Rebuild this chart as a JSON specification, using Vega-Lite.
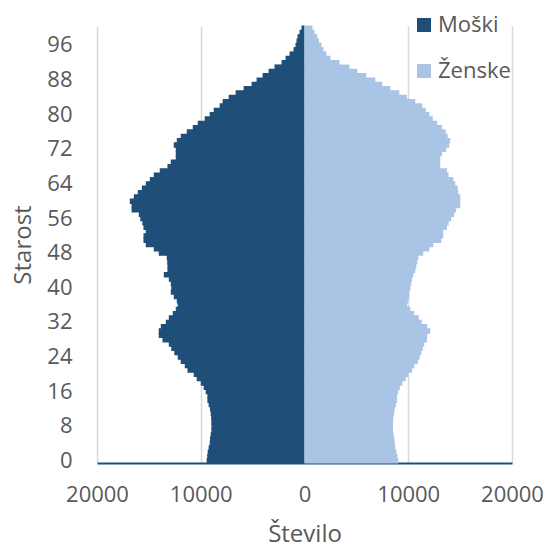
{
  "$schema": "https://vega.github.io/schema/vega-lite/v6.json",
  "autosize": "none",
  "width": 415,
  "height": 437,
  "padding": {"left": 97, "top": 26, "right": 34, "bottom": 86},
  "background": "white",
  "config": {
    "view": {"stroke": null},
    "font": "Open Sans",
    "axis": {"labelFont": "Open Sans", "titleFont": "Open Sans", "labelColor": "#595959", "titleColor": "#595959", "titleFontWeight": "normal"},
    "legend": {"labelFont": "Open Sans", "labelColor": "#595959"}
  },
  "data": {
    "values": [
      {"age":0,"Moški":9430,"Ženske":9040},{"age":1,"Moški":9380,"Ženske":8950},{"age":2,"Moški":9330,"Ženske":8850},{"age":3,"Moški":9240,"Ženske":8750},{"age":4,"Moški":9140,"Ženske":8700},
      {"age":5,"Moški":9110,"Ženske":8660},{"age":6,"Moški":9040,"Ženske":8590},{"age":7,"Moški":8980,"Ženske":8530},{"age":8,"Moški":8970,"Ženske":8530},{"age":9,"Moški":8980,"Ženske":8530},
      {"age":10,"Moški":9000,"Ženske":8560},{"age":11,"Moški":9040,"Ženske":8630},{"age":12,"Moški":9110,"Ženske":8700},{"age":13,"Moški":9240,"Ženske":8800},{"age":14,"Moški":9360,"Ženske":8920},
      {"age":15,"Moški":9360,"Ženske":8920},{"age":16,"Moški":9520,"Ženske":9040},{"age":17,"Moški":9720,"Ženske":9190},{"age":18,"Moški":10000,"Ženske":9430},{"age":19,"Moški":10390,"Ženske":9760},
      {"age":20,"Moški":10680,"Ženske":10000},{"age":21,"Moški":11280,"Ženske":10360},{"age":22,"Moški":11540,"Ženske":10580},{"age":23,"Moški":11930,"Ženske":10920},{"age":24,"Moški":12220,"Ženske":11110},
      {"age":25,"Moški":12550,"Ženske":11260},{"age":26,"Moški":12840,"Ženske":11400},{"age":27,"Moški":13080,"Ženske":11540},{"age":28,"Moški":13690,"Ženske":11800},{"age":29,"Moški":14050,"Ženske":11830},
      {"age":30,"Moški":14050,"Ženske":12120},{"age":31,"Moški":13850,"Ženske":11830},{"age":32,"Moški":13370,"Ženske":11300},{"age":33,"Moški":13080,"Ženske":11010},{"age":34,"Moški":12700,"Ženske":10580},
      {"age":35,"Moški":12410,"Ženske":10200},{"age":36,"Moški":12220,"Ženske":9910},{"age":37,"Moški":12310,"Ženske":9960},{"age":38,"Moški":12600,"Ženske":10100},{"age":39,"Moški":12890,"Ženske":10100},
      {"age":40,"Moški":12840,"Ženske":10200},{"age":41,"Moški":12890,"Ženske":10290},{"age":42,"Moški":13080,"Ženske":10360},{"age":43,"Moški":13560,"Ženske":10490},{"age":44,"Moški":13210,"Ženske":10680},
      {"age":45,"Moški":13210,"Ženske":10770},{"age":46,"Moški":13230,"Ženske":10870},{"age":47,"Moški":13280,"Ženske":10970},{"age":48,"Moški":14050,"Ženske":11450},{"age":49,"Moški":14530,"Ženske":12030},
      {"age":50,"Moški":15300,"Ženske":12410},{"age":51,"Moški":15520,"Ženske":13180},{"age":52,"Moški":15520,"Ženske":13370},{"age":53,"Moški":15300,"Ženske":13370},{"age":54,"Moški":15520,"Ženske":13730},
      {"age":55,"Moški":15630,"Ženske":13900},{"age":56,"Moški":15830,"Ženske":14140},{"age":57,"Moški":15970,"Ženske":14430},{"age":58,"Moški":16670,"Ženske":14620},{"age":59,"Moški":16670,"Ženske":15010},
      {"age":60,"Moški":16840,"Ženske":15010},{"age":61,"Moški":16450,"Ženske":15010},{"age":62,"Moški":16070,"Ženske":14820},{"age":63,"Moški":15680,"Ženske":14770},{"age":64,"Moški":15300,"Ženske":14530},
      {"age":65,"Moški":14910,"Ženske":14340},{"age":66,"Moški":14530,"Ženske":13880},{"age":67,"Moški":13950,"Ženske":13730},{"age":68,"Moški":13210,"Ženske":13080},{"age":69,"Moški":12890,"Ženske":13080},
      {"age":70,"Moški":12410,"Ženske":13080},{"age":71,"Moški":12410,"Ženske":13250},{"age":72,"Moški":12410,"Ženske":13660},{"age":73,"Moški":12600,"Ženske":13950},{"age":74,"Moški":12310,"Ženske":14050},
      {"age":75,"Moški":11930,"Ženske":13800},{"age":76,"Moški":11350,"Ženske":13610},{"age":77,"Moški":10770,"Ženske":13250},{"age":78,"Moški":10290,"Ženske":12790},{"age":79,"Moški":9620,"Ženske":12360},
      {"age":80,"Moški":9140,"Ženske":12030},{"age":81,"Moški":8750,"Ženske":11690},{"age":82,"Moški":8180,"Ženske":11350},{"age":83,"Moški":7890,"Ženske":10680},{"age":84,"Moški":7310,"Ženske":9880},
      {"age":85,"Moški":6640,"Ženske":9140},{"age":86,"Moški":5870,"Ženske":8270},{"age":87,"Moški":5100,"Ženske":7500},{"age":88,"Moški":4620,"Ženske":6830},{"age":89,"Moški":4040,"Ženske":5960},
      {"age":90,"Moški":3460,"Ženske":5100},{"age":91,"Moški":2890,"Ženske":4330},{"age":92,"Moški":2210,"Ženske":3370},{"age":93,"Moški":1830,"Ženske":2500},{"age":94,"Moški":1440,"Ženske":2120},
      {"age":95,"Moški":1060,"Ženske":1830},{"age":96,"Moški":870,"Ženske":1640},{"age":97,"Moški":770,"Ženske":1400},{"age":98,"Moški":670,"Ženske":1220},{"age":99,"Moški":480,"Ženske":960},
      {"age":100,"Moški":290,"Ženske":770}
    ]
  },
  "transform": [{"fold": ["Moški", "Ženske"], "as": ["sex", "value"]}],
  "layer": [
    {
      "transform": [{"filter": "datum.sex === 'Moški'"}],
      "mark": {"type": "bar", "height": {"band": 1.25}},
      "encoding": {
        "y": {
          "field": "age", "type": "ordinal", "sort": "descending",
          "scale": {"paddingInner": 0, "paddingOuter": 0},
          "axis": {
            "values": [0, 8, 16, 24, 32, 40, 48, 56, 64, 72, 80, 88, 96],
            "domain": false, "ticks": false, "grid": false,
            "labelFontSize": 22, "labelPadding": 25, "labelAngle": 0,
            "title": "Starost", "titleFontSize": 24,
            "titleX": -74, "titleY": 218.5, "titleAngle": 270, "titleAlign": "center", "titleBaseline": "middle"
          }
        },
        "x": {
          "field": "value", "type": "quantitative",
          "scale": {"domain": [0, 20000], "range": [207.5, 0], "nice": false},
          "axis": {
            "orient": "bottom", "values": [0, 10000, 20000], "format": "d",
            "grid": true, "gridColor": "#d9d9d9", "gridWidth": 1.5,
            "domain": true, "domainColor": "#1F4E79", "domainWidth": 2,
            "ticks": false, "labelFontSize": 22, "labelPadding": 21, "labelFlush": false,
            "title": null
          }
        },
        "color": {
          "field": "sex", "type": "nominal",
          "scale": {"domain": ["Moški", "Ženske"], "range": ["#1F4E79", "#A9C4E4"]},
          "legend": {
            "orient": "none", "legendX": 316, "legendY": -12, "title": null,
            "symbolType": "square", "symbolSize": 196, "symbolStrokeWidth": 0,
            "labelFontSize": 22, "rowPadding": 24, "labelOffset": 3, "padding": 0
          }
        }
      }
    },
    {
      "transform": [{"filter": "datum.sex === 'Ženske'"}],
      "mark": {"type": "bar", "height": {"band": 1.25}},
      "encoding": {
        "y": {"field": "age", "type": "ordinal", "sort": "descending"},
        "x": {
          "field": "value", "type": "quantitative",
          "scale": {"domain": [0, 20000], "range": [207.5, 415], "nice": false},
          "axis": {
            "orient": "bottom", "values": [10000, 20000], "format": "d",
            "grid": true, "gridColor": "#d9d9d9", "gridWidth": 1.5,
            "domain": true, "domainColor": "#1F4E79", "domainWidth": 2,
            "ticks": false, "labelFontSize": 22, "labelPadding": 21, "labelFlush": false,
            "title": "Število", "titleFontSize": 24, "titleX": 207.5, "titleY": 78, "titleBaseline": "alphabetic", "titleAlign": "center"
          }
        },
        "color": {"field": "sex", "type": "nominal"}
      }
    }
  ],
  "resolve": {"scale": {"x": "independent"}, "axis": {"x": "independent"}}
}
